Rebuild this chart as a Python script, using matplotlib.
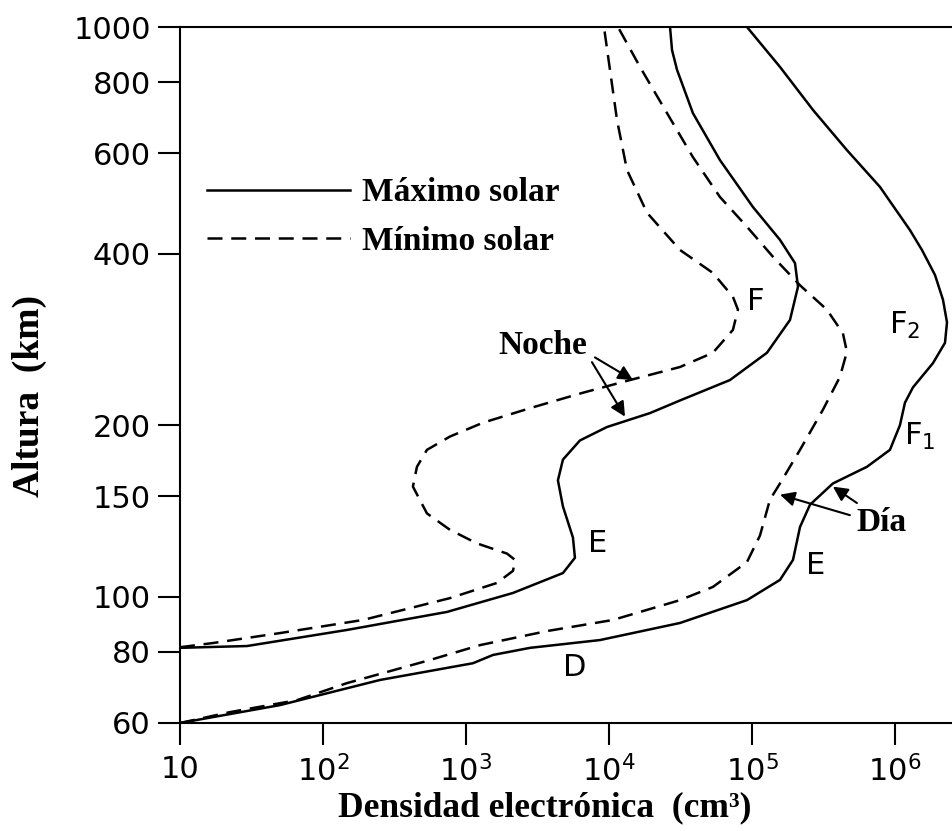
import numpy as np
import matplotlib
matplotlib.use('Agg')
import matplotlib.pyplot as plt
from matplotlib.lines import Line2D

# Perfiles de densidad electrónica: altura (km) y exponente log10(N)
dia_max_alt = [60, 64.5, 71.4, 76.4, 79.0, 81.3, 83.9, 89.9, 98.6, 107, 116, 132.5, 145, 158,
               169, 181, 200, 219, 233, 257, 279, 303, 332, 367, 406, 440, 524, 608, 715, 851, 1000]
dia_max_logn = [1.0, 1.699, 2.399, 3.049, 3.189, 3.448, 3.937, 4.497, 4.965, 5.196, 5.287, 5.336,
                5.406, 5.566, 5.804, 5.965, 6.035, 6.070, 6.126, 6.266, 6.350, 6.364, 6.336, 6.280,
                6.189, 6.105, 5.895, 5.664, 5.427, 5.196, 4.965]

dia_min_alt = [60, 62.7, 65.8, 70.5, 77.4, 82.2, 87.0, 91.0, 98.6, 104, 115, 128, 148, 158, 181,
               213, 243, 269, 290, 319, 352, 395, 446, 503, 591, 706, 851, 1000]
dia_min_logn = [1.0, 1.350, 1.818, 2.168, 2.748, 3.098, 3.566, 4.028, 4.497, 4.727, 4.965, 5.056,
                5.126, 5.196, 5.336, 5.497, 5.615, 5.664, 5.636, 5.524, 5.336, 5.147, 4.965, 4.776,
                4.587, 4.406, 4.217, 4.063]

noche_max_alt = [81.3, 81.9, 87.4, 94.0, 101.5, 110, 117, 127, 144, 160, 174, 188, 198.5, 210,
                 221, 240, 268, 306, 350, 385, 423, 483, 584, 706, 841, 911, 1000]
noche_max_logn = [1.0, 1.469, 2.168, 2.867, 3.329, 3.678, 3.762, 3.748, 3.678, 3.643, 3.678, 3.797,
                  3.986, 4.287, 4.497, 4.846, 5.105, 5.266, 5.322, 5.301, 5.196, 5.007, 4.776,
                  4.587, 4.476, 4.441, 4.427]

noche_min_alt = [81.5, 82.9, 86.3, 91.0, 99.4, 105.7, 111, 116, 119, 124, 131, 140, 156, 169, 181,
                 191, 202, 215, 228, 240, 253, 268, 294, 319, 336, 370, 406, 472, 561, 687, 841, 1000]
noche_min_logn = [1.0, 1.231, 1.699, 2.280, 2.888, 3.217, 3.329, 3.343, 3.287, 3.077, 2.888, 2.727,
                  2.629, 2.657, 2.727, 2.888, 3.119, 3.469, 3.818, 4.147, 4.497, 4.727, 4.867, 4.902,
                  4.867, 4.727, 4.497, 4.266, 4.126, 4.056, 4.007, 3.965]

# ejes
y_ticks = [60, 80, 100, 150, 200, 400, 600, 800, 1000]
x_ticks = [1e1, 1e2, 1e3, 1e4, 1e5, 1e6]
x_ticklabels = ['10', '$10^{2}$', '$10^{3}$', '$10^{4}$', '$10^{5}$', '$10^{6}$']

# etiquetas de capas: (texto, log10 N, altura)
capas = [('F', 5.028, 330), ('F$_2$', 6.070, 299), ('F$_1$', 6.175, 191),
         ('E', 3.923, 124), ('E', 5.448, 113.6), ('D', 3.762, 75.2)]

# flechas: (log10 N cola, altura cola, log10 N punta, altura punta)
flechas_noche = [(3.902, 263, 4.168, 240), (3.881, 258, 4.112, 207)]
flechas_dia = [(5.685, 139, 5.196, 151), (5.734, 146, 5.566, 156)]

LW = 1.8
DASH = (0, (6, 3.5))
serif = ['Liberation Serif', 'DejaVu Serif']

fig = plt.figure(figsize=(9.53, 8.31), dpi=100)
ax = fig.add_axes([180 / 953, 1 - 723 / 831, 1 - 180 / 953, (723 - 27) / 831])

def curva(logn, alt, ls):
    ax.plot(10 ** np.array(logn), alt, color='black', lw=LW, linestyle=ls,
            solid_joinstyle='round')

curva(dia_max_logn, dia_max_alt, '-')
curva(dia_min_logn, dia_min_alt, DASH)
curva(noche_max_logn, noche_max_alt, '-')
curva(noche_min_logn, noche_min_alt, DASH)

ax.set_xscale('log')
ax.set_yscale('log')
ax.set_xlim(10, 10 ** 6.406)
ax.set_ylim(60, 1000)
ax.set_yticks(y_ticks)
ax.set_yticklabels([str(v) for v in y_ticks])
ax.set_xticks(x_ticks)
ax.set_xticklabels(x_ticklabels)
ax.minorticks_off()
ax.tick_params(direction='out', length=16, width=1.5, labelsize=22, pad=5)
ax.tick_params(axis='x', pad=7)
ax.spines['right'].set_visible(False)
for s in ['left', 'bottom', 'top']:
    ax.spines[s].set_linewidth(1.5)

ax.set_xlabel('Densidad electrónica  (cm³)', family=serif, fontweight='bold', fontsize=25.5)
ax.set_ylabel('Altura  (km)', family=serif, fontweight='bold', fontsize=27)
ax.xaxis.set_label_coords(0.472, -0.098)
ax.yaxis.set_label_coords(-0.172, 0.47)

# leyenda
handles = [Line2D([], [], color='black', lw=LW, linestyle='-'),
           Line2D([], [], color='black', lw=LW, linestyle=DASH)]
leg = ax.legend(handles, ['Máximo solar', 'Mínimo solar'], loc='upper left',
                bbox_to_anchor=(0.013, 0.808), frameon=False, handlelength=4.3,
                handletextpad=0.36, labelspacing=0.53, borderpad=0,
                prop={'family': serif, 'weight': 'bold', 'size': 24})

for txt, ln, h in capas:
    ax.text(10 ** ln, h, txt, fontsize=22, ha='center', va='center')

ax.text(10 ** 3.538, 276, 'Noche', family=serif, fontweight='bold', fontsize=24,
        ha='center', va='center')
ax.text(10 ** 5.909, 135, 'Día', family=serif, fontweight='bold', fontsize=24,
        ha='center', va='center')

for x0, y0, x1, y1 in flechas_noche + flechas_dia:
    ax.annotate('', xy=(10 ** x1, y1), xytext=(10 ** x0, y0),
                arrowprops=dict(arrowstyle='-|>', color='black', lw=1.5,
                                mutation_scale=22, shrinkA=0, shrinkB=0))

fig.savefig('out.png', dpi=100)
